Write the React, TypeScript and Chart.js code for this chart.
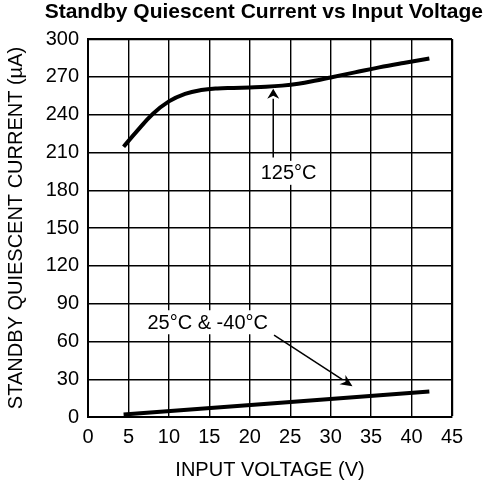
import React, { useEffect, useRef } from "react";
import { Chart, registerables } from "chart.js";

Chart.register(...registerables);

const TITLE = "Standby Quiescent Current vs Input Voltage";
const X_TITLE = "INPUT VOLTAGE (V)";
const Y_TITLE = "STANDBY QUIESCENT CURRENT (\u00b5A)";

const VOLTAGE_125 = [4.4, 6, 8, 10, 12, 14, 16, 18, 20, 22, 24, 26, 28, 30, 33, 36, 39, 42.2];
const CURRENT_125 = [214.5, 226.5, 240.5, 250.5, 256.5, 259.5, 260.8, 261.2, 261.6, 262.1, 263, 264.5, 266.8, 269.5, 273.5, 277.5, 281, 284.5];

const VOLTAGE_25 = [4.4, 23, 42.2];
const CURRENT_25 = [2, 11, 20.3];

const X_MIN = 0;
const X_MAX = 45;
const X_STEP = 5;
const Y_MIN = 0;
const Y_MAX = 300;
const Y_STEP = 30;

const LABEL_125 = "125\u00b0C";
const LABEL_25 = "25\u00b0C & -40\u00b0C";

const FONT = "'Liberation Sans', Arial, sans-serif";

const annotationPlugin = {
  id: "annotations",
  afterDatasetsDraw(chart: any) {
    const { ctx, scales } = chart;
    const x = scales.x;
    const y = scales.y;
    ctx.save();
    ctx.fillStyle = "#000";
    ctx.strokeStyle = "#000";
    ctx.font = `20px ${FONT}`;
    ctx.textAlign = "center";
    ctx.textBaseline = "middle";
    const drawLabel = (text: string, vx: number, vy: number) => {
      const px = x.getPixelForValue(vx);
      const py = y.getPixelForValue(vy);
      const w = ctx.measureText(text).width;
      ctx.fillStyle = "#fff";
      ctx.fillRect(px - w / 2 - 3, py - 12, w + 6, 24);
      ctx.fillStyle = "#000";
      ctx.fillText(text, px, py + 1);
    };
    drawLabel(LABEL_125, 24.8, 193.8);
    drawLabel(LABEL_25, 14.8, 75.2);

    const drawArrow = (vx1: number, vy1: number, vx2: number, vy2: number, len: number, half: number) => {
      const x1 = x.getPixelForValue(vx1);
      const y1 = y.getPixelForValue(vy1);
      const x2 = x.getPixelForValue(vx2);
      const y2 = y.getPixelForValue(vy2);
      const ang = Math.atan2(y2 - y1, x2 - x1);
      const bx = x2 - len * Math.cos(ang);
      const by = y2 - len * Math.sin(ang);
      ctx.lineWidth = 1.5;
      ctx.beginPath();
      ctx.moveTo(x1, y1);
      ctx.lineTo(bx, by);
      ctx.stroke();
      ctx.beginPath();
      ctx.moveTo(x2, y2);
      ctx.lineTo(bx + half * Math.sin(ang), by - half * Math.cos(ang));
      ctx.lineTo(x2 - len * 0.7 * Math.cos(ang), y2 - len * 0.7 * Math.sin(ang));
      ctx.lineTo(bx - half * Math.sin(ang), by + half * Math.cos(ang));
      ctx.closePath();
      ctx.fill();
    };
    drawArrow(22.9, 206, 22.9, 260.6, 10, 6);
    drawArrow(23.0, 64.9, 32.7, 24.4, 12, 5.5);
    ctx.restore();
  },
};

export default function App() {
  const ref = useRef<HTMLCanvasElement | null>(null);
  useEffect(() => {
    if (!ref.current) return;
    const gridWidth = (edge: number) => (c: any) =>
      c.tick && c.tick.value === edge ? 2.2 : 1.4;
    const chart = new Chart(ref.current, {
      type: "line",
      data: {
        datasets: [
          {
            label: LABEL_125,
            data: VOLTAGE_125.map((v, i) => ({ x: v, y: CURRENT_125[i] })),
            borderColor: "#000",
            borderWidth: 4,
            pointRadius: 0,
            tension: 0.4,
            fill: false,
          },
          {
            label: LABEL_25,
            data: VOLTAGE_25.map((v, i) => ({ x: v, y: CURRENT_25[i] })),
            borderColor: "#000",
            borderWidth: 4,
            pointRadius: 0,
            fill: false,
          },
        ],
      },
      options: {
        animation: false,
        responsive: false,
        maintainAspectRatio: false,
        layout: { padding: { left: 0, right: 8, top: 0, bottom: 0 } },
        plugins: {
          legend: { display: false },
          tooltip: { enabled: false },
          title: {
            display: true,
            text: TITLE,
            align: "end",
            color: "#000",
            font: { family: FONT, size: 21, weight: "bold" },
            padding: { top: 0, bottom: 13.8 },
          },
        },
        scales: {
          x: {
            type: "linear",
            min: X_MIN,
            max: X_MAX,
            ticks: {
              stepSize: X_STEP,
              color: "#000",
              font: { family: FONT, size: 20 },
              padding: 8,
              maxRotation: 0,
            },
            grid: { color: "#000", lineWidth: gridWidth(X_MAX), drawTicks: false },
            border: { display: true, color: "#000", width: 2 },
            title: {
              display: true,
              text: X_TITLE,
              color: "#000",
              font: { family: FONT, size: 20 },
              padding: { top: 0, bottom: 3 },
            },
            afterFit: (s: any) => {
              s.height = 68;
            },
          },
          y: {
            type: "linear",
            min: Y_MIN,
            max: Y_MAX,
            ticks: {
              stepSize: Y_STEP,
              color: "#000",
              font: { family: FONT, size: 20 },
              padding: 9,
            },
            grid: { color: "#000", lineWidth: gridWidth(Y_MAX), drawTicks: false },
            border: { display: true, color: "#000", width: 2 },
            title: {
              display: true,
              text: Y_TITLE,
              color: "#000",
              font: { family: FONT, size: 20 },
              padding: { top: 4, bottom: 0 },
            },
            afterFit: (s: any) => {
              s.width = 88;
            },
          },
          yR: {
            type: "linear",
            position: "right",
            min: Y_MIN,
            max: Y_MAX,
            grid: { display: false },
            border: { display: false },
            ticks: { display: false },
            afterFit: (s: any) => {
              s.width = 31;
            },
          },
        },
      },
      plugins: [annotationPlugin],
    } as any);
    return () => chart.destroy();
  }, []);
  return (
    <div style={{ position: "fixed", left: 0, top: 0, width: 491, height: 485, background: "#fff" }}>
      <canvas ref={ref} width={491} height={485} style={{ width: 491, height: 485 }} />
    </div>
  );
}
